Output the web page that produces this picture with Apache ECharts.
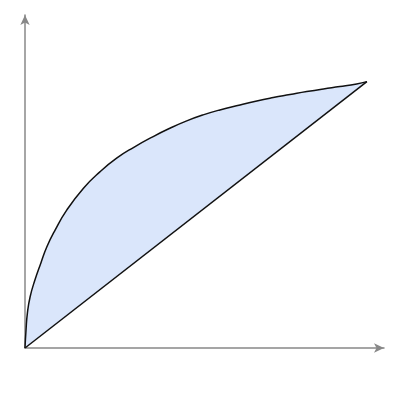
<html>
<head>
    <meta charset="utf-8">
    <title>ECharts</title>
    <script src="https://cdn.jsdelivr.net/npm/echarts@6/dist/echarts.min.js"></script>
</head>
<body style="margin:0;">
    <div id="main" style="width: 400px;height:400px;"></div>
    <script type="text/javascript">
        var myChart = echarts.init(document.getElementById('main'));

        // curve
        var curveX = [0, 0.003, 0.007, 0.015, 0.029, 0.046, 0.064, 0.088, 0.122, 0.171,
            0.219, 0.268, 0.317, 0.375, 0.424, 0.473, 0.521, 0.570, 0.629, 0.678,
            0.726, 0.775, 0.824, 0.873, 0.921, 0.970, 1.0];
        var curveY = [0, 0.054, 0.105, 0.154, 0.204, 0.254, 0.304, 0.354, 0.414, 0.480,
            0.529, 0.570, 0.602, 0.635, 0.660, 0.682, 0.700, 0.715, 0.730, 0.742,
            0.752, 0.761, 0.770, 0.778, 0.785, 0.793, 0.80];
        // straight line from origin to the end of the curve
        var lineX = [0, 1.0];
        var lineY = [0, 0.80];

        function pairs(xs, ys) {
            return xs.map(function (x, i) {
                return [x, ys[i]];
            });
        }

        var axisStyle = {
            show: true,
            symbol: ['none', 'arrow'],
            symbolSize: [7, 10],
            lineStyle: { color: '#888', width: 1.5 }
        };

        option = {
            animation: false,
            grid: { left: 25, right: 16, top: 15, bottom: 52 },
            xAxis: {
                type: 'value',
                min: 0,
                max: 1.05,
                axisLine: axisStyle,
                axisTick: { show: false },
                axisLabel: { show: false },
                splitLine: { show: false }
            },
            yAxis: {
                type: 'value',
                min: 0,
                max: 1,
                axisLine: axisStyle,
                axisTick: { show: false },
                axisLabel: { show: false },
                splitLine: { show: false }
            },
            series: [
                {
                    // area between the curve and the straight line
                    type: 'custom',
                    data: [0],
                    z: 1,
                    renderItem: function (params, api) {
                        var pts = pairs(curveX, curveY).map(function (p) {
                            return api.coord(p);
                        });
                        return {
                            type: 'polygon',
                            shape: { points: pts },
                            style: { fill: '#dae6fb', stroke: 'none' }
                        };
                    }
                },
                {
                    type: 'line',
                    data: pairs(curveX, curveY),
                    smooth: 0.5,
                    showSymbol: false,
                    z: 3,
                    lineStyle: { color: '#111', width: 1.5 }
                },
                {
                    type: 'line',
                    data: pairs(lineX, lineY),
                    showSymbol: false,
                    z: 3,
                    lineStyle: { color: '#111', width: 1.5 }
                }
            ]
        };

        myChart.setOption(option);
    </script>
</body>
</html>
